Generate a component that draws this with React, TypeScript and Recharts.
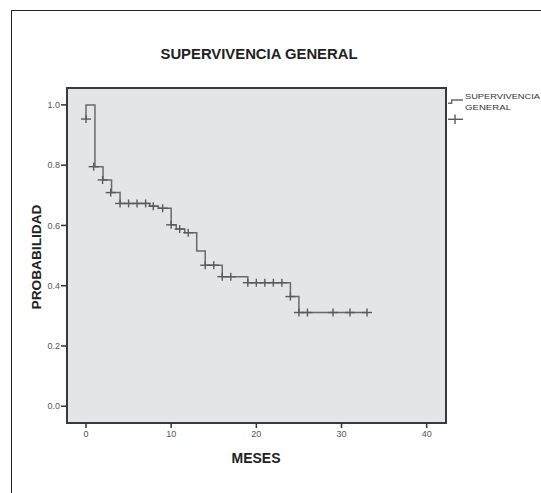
import React from 'react';
import { ComposedChart, Line, Scatter, XAxis, YAxis, ReferenceArea } from 'recharts';

// Kaplan-Meier steps (time in months, survival probability)
const stepTimes = [0, 0, 1.05, 2, 3, 4, 7.5, 8.5, 10, 10.6, 11.6, 13, 14, 16, 19, 24, 25, 33];
const stepSurvival = [0.953, 1.0, 0.795, 0.751, 0.709, 0.673, 0.664, 0.657, 0.602, 0.588, 0.576, 0.515, 0.468, 0.43, 0.41, 0.364, 0.311, 0.311];

// censored observations (+ marks)
const censorTimes = [0, 0.9, 1.95, 2.9, 4, 5, 6, 7, 7.9, 9, 10, 11, 12, 14, 15, 16, 17, 19, 20, 21, 22, 23, 24, 25, 26, 29, 31, 33];
const censorSurvival = [0.953, 0.795, 0.751, 0.709, 0.673, 0.673, 0.673, 0.673, 0.664, 0.657, 0.602, 0.588, 0.576, 0.468, 0.468, 0.43, 0.43, 0.41, 0.41, 0.41, 0.41, 0.41, 0.364, 0.311, 0.311, 0.311, 0.311, 0.311];

const xTicks = [0, 10, 20, 30, 40];
const yTicks = [0, 0.2, 0.4, 0.6, 0.8, 1.0];

const X_MIN = -2.23;
const X_MAX = 42.27;
const Y_MIN = -0.0555;
const Y_MAX = 1.056;

const FONT = '"Liberation Sans", Arial, sans-serif';

const stepData = stepTimes.map((t, i) => ({ t, s: stepSurvival[i] }));
const censorData = censorTimes.map((t, i) => ({ t, s: censorSurvival[i] }));

function Cross(props: any) {
  const { cx, cy } = props;
  return (
    <g stroke="#5a5a5a" strokeWidth={1.4}>
      <line x1={cx - 5} x2={cx + 5} y1={cy} y2={cy} />
      <line x1={cx} x2={cx} y1={cy - 4} y2={cy + 4} />
    </g>
  );
}

const tickStyle = { fontSize: 9, fill: '#555', fontFamily: FONT };

export default function App() {
  return (
    <div style={{ position: 'absolute', left: 0, top: 0, width: 541, height: 493, background: '#fff', overflow: 'hidden' }}>
      <div style={{ position: 'absolute', left: 11, top: 10, width: 600, height: 482, borderLeft: '1.5px solid #222', borderTop: '1.5px solid #222' }} />
      <ComposedChart
        width={541}
        height={493}
        margin={{ top: 88, right: 95, bottom: 50, left: 37 }}
        style={{ position: 'absolute', left: 0, top: 0 }}
      >
        <XAxis
          type="number"
          dataKey="t"
          domain={[X_MIN, X_MAX]}
          ticks={xTicks}
          allowDataOverflow
          axisLine={false}
          tickLine={{ stroke: '#333', strokeWidth: 1.5 }}
          tickSize={5}
          tickMargin={3}
          height={20}
          tick={tickStyle}
        />
        <YAxis
          type="number"
          dataKey="s"
          domain={[Y_MIN, Y_MAX]}
          ticks={yTicks}
          allowDataOverflow
          axisLine={false}
          tickLine={{ stroke: '#333', strokeWidth: 1.5 }}
          tickSize={6}
          tickMargin={1}
          width={30}
          tick={tickStyle}
          tickFormatter={(v: number) => v.toFixed(1)}
        />
        <ReferenceArea
          x1={X_MIN}
          x2={X_MAX}
          y1={Y_MIN}
          y2={Y_MAX}
          fill="#e4e5e7"
          fillOpacity={1}
          stroke="#3a3a3a"
          strokeWidth={2}
          ifOverflow="visible"
        />
        <Line
          data={stepData}
          dataKey="s"
          type="stepAfter"
          stroke="#6a6a6a"
          strokeWidth={1.5}
          dot={false}
          activeDot={false}
          isAnimationActive={false}
        />
        <Scatter data={censorData} dataKey="s" shape={Cross} isAnimationActive={false} />
      </ComposedChart>
      <svg width={541} height={493} style={{ position: 'absolute', left: 0, top: 0, pointerEvents: 'none' }}>
        <text x={259} y={59} textAnchor="middle" fontFamily={FONT} fontWeight="bold" fontSize={14} fill="#222" textLength={197} lengthAdjust="spacingAndGlyphs">
          SUPERVIVENCIA GENERAL
        </text>
        <text x={256} y={463} textAnchor="middle" fontFamily={FONT} fontWeight="bold" fontSize={14} fill="#222">
          MESES
        </text>
        <text transform="translate(41,257) rotate(-90)" textAnchor="middle" fontFamily={FONT} fontWeight="bold" fontSize={13} fill="#222" textLength={105} lengthAdjust="spacingAndGlyphs">
          PROBABILIDAD
        </text>
        {/* legend */}
        <path d="M448,103.3 H451.7 V100 H463" fill="none" stroke="#6a6a6a" strokeWidth={1.4} />
        <line x1={448} x2={463} y1={119.3} y2={119.3} stroke="#5a5a5a" strokeWidth={1.4} />
        <line x1={455} x2={455} y1={114.5} y2={124} stroke="#5a5a5a" strokeWidth={1.4} />
        <text x={465} y={98.5} fontFamily={FONT} fontSize={8} fill="#333" textLength={75} lengthAdjust="spacingAndGlyphs">
          SUPERVIVENCIA
        </text>
        <text x={465} y={109.5} fontFamily={FONT} fontSize={8} fill="#333" textLength={46} lengthAdjust="spacingAndGlyphs">
          GENERAL
        </text>
      </svg>
    </div>
  );
}
